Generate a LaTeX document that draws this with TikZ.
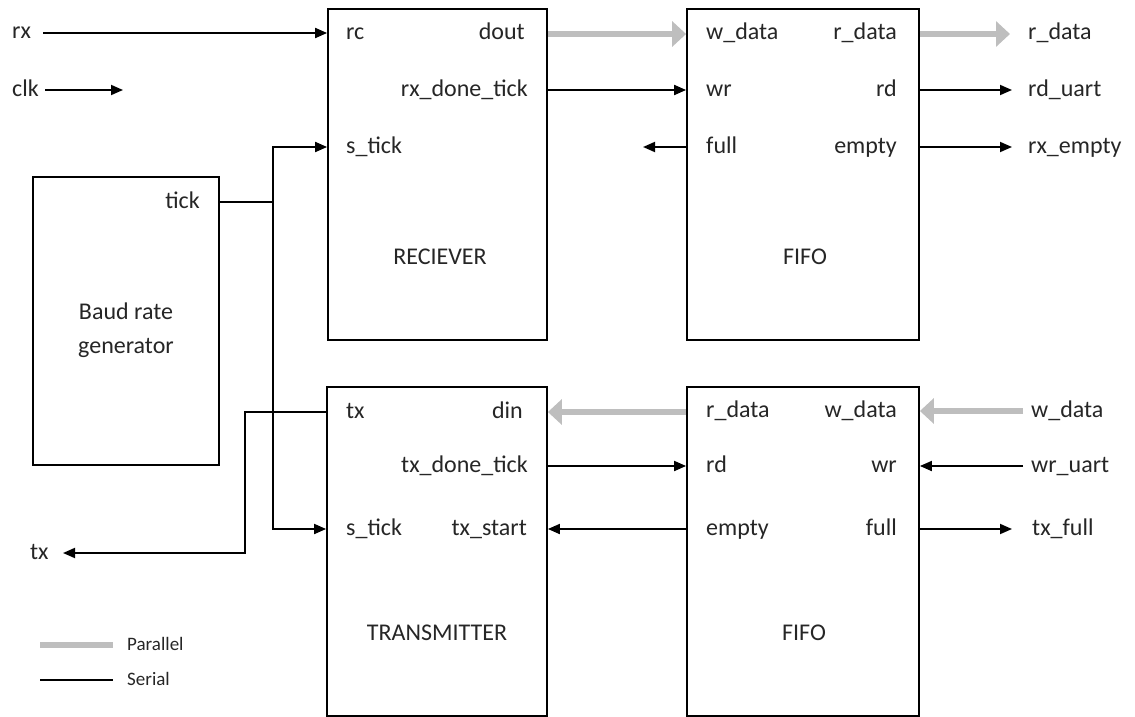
\documentclass[tikz,border=0pt]{standalone}
\usepackage{fontspec}
\setmainfont{Carlito}
\usetikzlibrary{arrows.meta}
\definecolor{pgray}{RGB}{190,190,190}
\definecolor{txt}{RGB}{38,38,38}
\begin{document}
\begin{tikzpicture}[x=1pt,y=-1pt,
  blk/.style={draw=black,line width=1.8pt,inner sep=0pt,fill=white},
  lbl/.style={inner sep=0pt,text height=17pt,text depth=5pt,font=\fontsize{24pt}{29pt}\selectfont,text=txt},
  ttl/.style={inner sep=0pt,align=center,font=\fontsize{24pt}{34pt}\selectfont,text=txt},
  leg/.style={inner sep=0pt,text height=14pt,text depth=4pt,font=\fontsize{19pt}{23pt}\selectfont,text=txt},
  sline/.style={line width=1.8pt,draw=black},
  ser/.style={sline,-{Triangle[length=12pt,width=10pt]}},
  pline/.style={line width=6pt,draw=pgray},
  par/.style={pline,-{Triangle[length=14pt,width=25pt]}}]
\useasboundingbox (0,0) rectangle (1135,717);

% blocks
\node[blk,minimum width=219pt,minimum height=331pt] (rec) at (437.5,174.5) {};
\node[blk,minimum width=232pt,minimum height=331pt] (fifoA) at (803,174.5) {};
\node[blk,minimum width=186pt,minimum height=288pt] (baud) at (126,321) {};
\node[blk,minimum width=220pt,minimum height=329pt] (trans) at (437,551.5) {};
\node[blk,minimum width=232pt,minimum height=329pt] (fifoB) at (803,551.5) {};

% titles
\node[ttl] (recT) at (440,257) {RECIEVER};
\node[ttl] (fifoAT) at (805,257) {FIFO};
\node[ttl] (baudT) at (126,330) {Baud rate\\generator};
\node[ttl] (transT) at (437,633) {TRANSMITTER};
\node[ttl] (fifoBT) at (804,633) {FIFO};

% receiver ports
\node[lbl,anchor=west] (rc) at (346,34) {rc};
\node[lbl,anchor=east] (dout) at (525,34) {dout};
\node[lbl,anchor=east] (rxdone) at (528,90) {rx\_done\_tick};
\node[lbl,anchor=west] (stickA) at (346,147) {s\_tick};
% fifo A ports
\node[lbl,anchor=west] (wdataA) at (706,34) {w\_data};
\node[lbl,anchor=east] (rdataA) at (897,34) {r\_data};
\node[lbl,anchor=west] (wrA) at (706,90) {wr};
\node[lbl,anchor=east] (rdA) at (897,90) {rd};
\node[lbl,anchor=west] (fullA) at (706,147) {full};
\node[lbl,anchor=east] (emptyA) at (897,147) {empty};
% baud port
\node[lbl,anchor=east] (tick) at (200,202) {tick};
% transmitter ports
\node[lbl,anchor=west] (txp) at (346,412) {tx};
\node[lbl,anchor=east] (din) at (523,412) {din};
\node[lbl,anchor=east] (txdone) at (528,466) {tx\_done\_tick};
\node[lbl,anchor=west] (stickB) at (346,529) {s\_tick};
\node[lbl,anchor=east] (txstart) at (527,529) {tx\_start};
% fifo B ports
\node[lbl,anchor=west] (rdataB) at (706,411) {r\_data};
\node[lbl,anchor=east] (wdataB) at (897,411) {w\_data};
\node[lbl,anchor=west] (rdB) at (706,466) {rd};
\node[lbl,anchor=east] (wrB) at (897,466) {wr};
\node[lbl,anchor=west] (emptyB) at (706,529) {empty};
\node[lbl,anchor=east] (fullB) at (897,529) {full};

% external signals
\node[lbl,anchor=west] (rx) at (12,33) {rx};
\node[lbl,anchor=west] (clk) at (12,90) {clk};
\node[lbl,anchor=west] (rdataO) at (1028,34) {r\_data};
\node[lbl,anchor=west] (rduart) at (1028,90) {rd\_uart};
\node[lbl,anchor=west] (rxempty) at (1028,147) {rx\_empty};
\node[lbl,anchor=west] (wdataI) at (1031,411) {w\_data};
\node[lbl,anchor=west] (wruart) at (1031,466) {wr\_uart};
\node[lbl,anchor=west] (txfull) at (1032,529) {tx\_full};
\node[lbl,anchor=west] (txo) at (30,553) {tx};

% legend
\node[leg,anchor=west] (legP) at (127,645) {Parallel};
\node[leg,anchor=west] (legS) at (127,680) {Serial};

% free ends
\coordinate (rxs) at (43,33);
\coordinate (clks) at (45,90);
\coordinate (clke) at (123,90);
\coordinate (fullE) at (643,147);
\coordinate (jn) at (273,202);
\coordinate (txbend) at (245,553);
\coordinate (txE) at (63,553);
\coordinate (rdataE) at (1010,34);
\coordinate (rduartE) at (1012,90);
\coordinate (rxemptyE) at (1012,147);
\coordinate (wdataS) at (1023,411);
\coordinate (wruartS) at (1023,466);
\coordinate (txfullE) at (1012,529);
\coordinate (lp1) at (40,645);
\coordinate (lp2) at (113,645);
\coordinate (ls1) at (40,680);
\coordinate (ls2) at (113,680);

% receiver side
\draw[ser] (rxs) -- (rxs -| rec.west);
\draw[ser] (clks) -- (clke);
\draw[par] (rec.east |- dout) -- (fifoA.west |- dout);
\draw[ser] (rec.east |- rxdone) -- (fifoA.west |- rxdone);
\draw[ser] (fifoA.west |- fullA) -- (fullE);
\draw[par] (fifoA.east |- rdataA) -- (rdataE);
\draw[ser] (fifoA.east |- rdA) -- (rduartE);
\draw[ser] (fifoA.east |- emptyA) -- (rxemptyE);

% tick distribution
\draw[sline] (baud.east |- tick) -- (jn);
\draw[ser] (jn) |- (rec.west |- stickA);
\draw[ser] (jn) |- (trans.west |- stickB);

% transmitter side
\draw[ser] (trans.west |- txp) -| (txbend) -- (txE);
\draw[par] (fifoB.west |- din) -- (trans.east |- din);
\draw[ser] (trans.east |- txdone) -- (fifoB.west |- txdone);
\draw[ser] (fifoB.west |- txstart) -- (trans.east |- txstart);
\draw[par] (wdataS) -- (wdataS -| fifoB.east);
\draw[ser] (wruartS) -- (wruartS -| fifoB.east);
\draw[ser] (fifoB.east |- fullB) -- (txfullE);

% legend lines
\draw[pline] (lp1) -- (lp2);
\draw[sline] (ls1) -- (ls2);
\end{tikzpicture}
\end{document}
